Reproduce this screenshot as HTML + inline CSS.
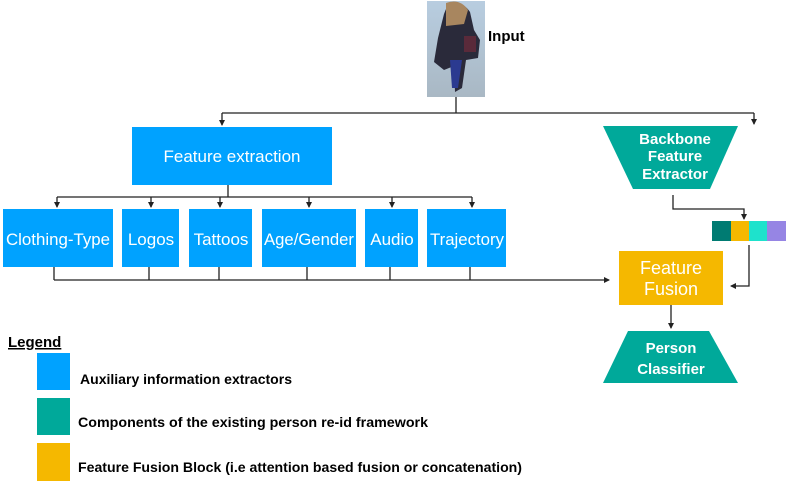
<!DOCTYPE html>
<html><head><style>
html,body{margin:0;padding:0;background:#fff;width:789px;height:493px;overflow:hidden}
text{font-family:"Liberation Sans",sans-serif}
</style></head><body>
<svg width="789" height="493" viewBox="0 0 789 493" xmlns="http://www.w3.org/2000/svg">
<defs>
<marker id="a" markerWidth="6" markerHeight="6" refX="5" refY="3" orient="auto" markerUnits="userSpaceOnUse"><path d="M0,0 L6,3 L0,6 z" fill="#222"/></marker>
<linearGradient id="bg" x1="0" y1="0" x2="0" y2="1"><stop offset="0" stop-color="#b8cde0"/><stop offset="1" stop-color="#a9b8c4"/></linearGradient>
</defs>
<!-- input image -->
<rect x="427" y="1" width="58" height="96" fill="url(#bg)"/>
<path d="M448,4 Q462,0 470,12 L474,30 L480,40 L478,58 L466,60 L462,88 L455,92 L454,66 L444,70 L434,62 L438,38 L444,14 Z" fill="#2a2a3a"/>
<path d="M450,60 L462,60 L458,88 L452,88 Z" fill="#2b3a90"/>
<path d="M446,3 Q460,-2 468,10 L464,24 L446,26 Z" fill="#a8865f"/>
<rect x="464" y="36" width="12" height="16" fill="#5a2a3a"/>
<text x="488" y="41" font-size="15" font-weight="bold" fill="#000">Input</text>
<g stroke="#222" stroke-width="1.3" fill="none">
<path d="M456,97 V113 M222,113 H754"/>
<path d="M222,113 V125" marker-end="url(#a)"/>
<path d="M754,113 V124" marker-end="url(#a)"/>
<path d="M228,185 V197 M57,197 H472"/>
<path d="M57,197 V207" marker-end="url(#a)"/>
<path d="M151,197 V207" marker-end="url(#a)"/>
<path d="M220,197 V207" marker-end="url(#a)"/>
<path d="M309,197 V207" marker-end="url(#a)"/>
<path d="M392,197 V207" marker-end="url(#a)"/>
<path d="M472,197 V207" marker-end="url(#a)"/>
<path d="M54,267 V280 M149,267 V280 M219,267 V280 M307,267 V280 M390,267 V280 M470,267 V280"/>
<path d="M54,280 H609" marker-end="url(#a)"/>
<path d="M673,195 V209 H744 V219" marker-end="url(#a)"/>
<path d="M749,245 V286 H731" marker-end="url(#a)"/>
<path d="M671,305 V328" marker-end="url(#a)"/>
</g>
<g fill="#00a2ff">
<rect x="132" y="127" width="200" height="58"/>
<rect x="3" y="209" width="110" height="58"/>
<rect x="122" y="209" width="57" height="58"/>
<rect x="189" y="209" width="63" height="58"/>
<rect x="262" y="209" width="94" height="58"/>
<rect x="365" y="209" width="53" height="58"/>
<rect x="427" y="209" width="79" height="58"/>
</g>
<g fill="#fff" font-size="17" text-anchor="middle">
<text x="232" y="162">Feature extraction</text>
<text x="58" y="245" textLength="104" lengthAdjust="spacingAndGlyphs">Clothing-Type</text>
<text x="151" y="245">Logos</text>
<text x="221" y="245">Tattoos</text>
<text x="309" y="245" textLength="90" lengthAdjust="spacingAndGlyphs">Age/Gender</text>
<text x="392" y="245">Audio</text>
<text x="467" y="245" textLength="74" lengthAdjust="spacingAndGlyphs">Trajectory</text>
</g>
<polygon points="603,126 738,126 710,189 633,189" fill="#00a99a"/>
<g fill="#fff" font-size="15" font-weight="bold" text-anchor="middle">
<text x="675" y="144">Backbone</text>
<text x="675" y="161">Feature</text>
<text x="675" y="179">Extractor</text>
</g>
<rect x="712" y="221" width="19" height="20" fill="#007b72"/>
<rect x="731" y="221" width="18" height="20" fill="#f5b800"/>
<rect x="749" y="221" width="18" height="20" fill="#1ee2cc"/>
<rect x="767" y="221" width="19" height="20" fill="#9685e4"/>
<rect x="619" y="251" width="104" height="54" fill="#f5b800"/>
<g fill="#fff" font-size="18" text-anchor="middle">
<text x="671" y="274">Feature</text>
<text x="671" y="295">Fusion</text>
</g>
<polygon points="628,331 709,331 738,383 603,383" fill="#00a99a"/>
<g fill="#fff" font-size="15" font-weight="bold" text-anchor="middle">
<text x="671" y="353">Person</text>
<text x="671" y="374">Classifier</text>
</g>
<text x="8" y="347" font-size="15" font-weight="bold" fill="#000" text-decoration="underline">Legend</text>
<rect x="37" y="353" width="33" height="37" fill="#00a2ff"/>
<rect x="37" y="398" width="33" height="37" fill="#00a99a"/>
<rect x="37" y="443" width="33" height="38" fill="#f5b800"/>
<g font-size="14" font-weight="bold" fill="#000">
<text x="80" y="384" textLength="212" lengthAdjust="spacingAndGlyphs">Auxiliary information extractors</text>
<text x="78" y="427" textLength="350" lengthAdjust="spacingAndGlyphs">Components of the existing person re-id framework</text>
<text x="78" y="472" textLength="444" lengthAdjust="spacingAndGlyphs">Feature Fusion Block (i.e attention based fusion or concatenation)</text>
</g>
</svg>
</body></html>
